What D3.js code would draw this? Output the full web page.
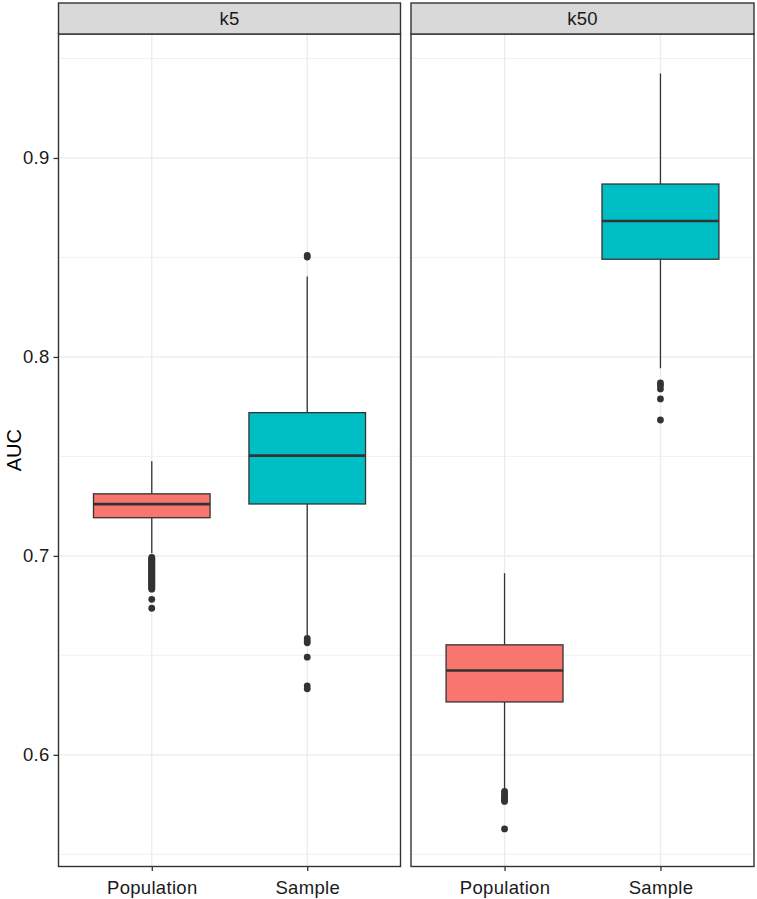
<!DOCTYPE html>
<html>
<head>
<meta charset="utf-8">
<script src="https://cdn.jsdelivr.net/npm/d3@7"></script>
<style>
  html, body { margin: 0; padding: 0; background: #ffffff; }
  svg { display: block; }
  text { font-family: "Liberation Sans", Arial, sans-serif; }
</style>
</head>
<body>
<div id="chart"></div>
<script>
// ---- Data ----
const facets = ["k5", "k50"];
const groups = ["Population", "Sample"];
const yTicks = [0.6, 0.7, 0.8, 0.9];
const yMinor = [0.55, 0.65, 0.75, 0.85, 0.95];
const fills = ["#F8766D", "#00BFC4"];

// order: k5-Population, k5-Sample, k50-Population, k50-Sample
const whiskerLow  = [0.7013, 0.6603, 0.5833, 0.7943];
const q1          = [0.7192, 0.7261, 0.6266, 0.8491];
const medians     = [0.7260, 0.7504, 0.6424, 0.8683];
const q3          = [0.7312, 0.7720, 0.6553, 0.8869];
const whiskerHigh = [0.7476, 0.8404, 0.6913, 0.9425];

const outK5Pop = [0.6992, 0.6987, 0.6982, 0.6977, 0.6972, 0.6967, 0.6962, 0.6957, 0.6952,
  0.6947, 0.6942, 0.6937, 0.6932, 0.6927, 0.6922, 0.6917, 0.6912, 0.6907, 0.6902, 0.6897,
  0.6892, 0.6887, 0.6882, 0.6877, 0.6872, 0.6867, 0.6862, 0.6857, 0.6852, 0.6847, 0.6842,
  0.6837, 0.6833, 0.6782, 0.6737];
const outK5Sample = [0.8510, 0.8502, 0.6585, 0.6572, 0.6563, 0.6491, 0.6347, 0.6332];
const outK50Pop = [0.5817, 0.5805, 0.5795, 0.5787, 0.5780, 0.5773, 0.5766, 0.5628];
const outK50Sample = [0.7869, 0.7858, 0.7839, 0.7789, 0.7683];
const outliers = [outK5Pop, outK5Sample, outK50Pop, outK50Sample];

// ---- Layout ----
const W = 757, H = 899;
const panels = [{x0: 58.5, x1: 400.5}, {x0: 411, x1: 754}];
const stripTop = 3, panelTop = 34, panelBottom = 866.5;
const fontSize = 18.5, spacing = 0.3;

const svg = d3.select("#chart").append("svg").attr("width", W).attr("height", H);

const y = d3.scaleLinear().domain([0.5439, 0.9623]).range([panelBottom, panelTop]);

const ink = "#333333";

facets.forEach((f, fi) => {
  const p = panels[fi];
  const x = d3.scalePoint().domain(groups).range([p.x0, p.x1]).padding(0.6);
  const step = x.step();
  const bw = step * 0.75;
  const g = svg.append("g");

  g.append("rect").attr("x", p.x0).attr("y", panelTop)
    .attr("width", p.x1 - p.x0).attr("height", panelBottom - panelTop).attr("fill", "#fff");

  g.selectAll(".minor").data(yMinor).join("line")
    .attr("x1", p.x0).attr("x2", p.x1)
    .attr("y1", d => y(d)).attr("y2", d => y(d))
    .attr("stroke", "#EBEBEB").attr("stroke-width", 0.7);
  g.selectAll(".major").data(yTicks).join("line")
    .attr("x1", p.x0).attr("x2", p.x1)
    .attr("y1", d => y(d)).attr("y2", d => y(d))
    .attr("stroke", "#EBEBEB").attr("stroke-width", 1.3);
  g.selectAll(".vgrid").data(groups).join("line")
    .attr("x1", d => x(d)).attr("x2", d => x(d))
    .attr("y1", panelTop).attr("y2", panelBottom)
    .attr("stroke", "#EBEBEB").attr("stroke-width", 1.3);

  groups.forEach((gr, gi) => {
    const i = fi * 2 + gi;
    const cx = x(gr);
    g.append("line").attr("x1", cx).attr("x2", cx)
      .attr("y1", y(q3[i])).attr("y2", y(whiskerHigh[i]))
      .attr("stroke", ink).attr("stroke-width", 1.3);
    g.append("line").attr("x1", cx).attr("x2", cx)
      .attr("y1", y(q1[i])).attr("y2", y(whiskerLow[i]))
      .attr("stroke", ink).attr("stroke-width", 1.3);
    g.append("rect").attr("x", cx - bw / 2).attr("y", y(q3[i]))
      .attr("width", bw).attr("height", y(q1[i]) - y(q3[i]))
      .attr("fill", fills[gi]).attr("stroke", ink).attr("stroke-width", 1.3);
    g.append("line").attr("x1", cx - bw / 2).attr("x2", cx + bw / 2)
      .attr("y1", y(medians[i])).attr("y2", y(medians[i]))
      .attr("stroke", ink).attr("stroke-width", 2.6);
    g.selectAll(null).data(outliers[i]).join("circle")
      .attr("cx", cx).attr("cy", d => y(d)).attr("r", 3.4)
      .attr("fill", ink);
  });

  g.append("rect").attr("x", p.x0).attr("y", panelTop)
    .attr("width", p.x1 - p.x0).attr("height", panelBottom - panelTop)
    .attr("fill", "none").attr("stroke", ink).attr("stroke-width", 1.4);

  g.append("rect").attr("x", p.x0).attr("y", stripTop)
    .attr("width", p.x1 - p.x0).attr("height", panelTop - stripTop)
    .attr("fill", "#D9D9D9").attr("stroke", ink).attr("stroke-width", 1.4);
  g.append("text").attr("x", (p.x0 + p.x1) / 2).attr("y", (stripTop + panelTop) / 2)
    .attr("dy", "0.36em").attr("text-anchor", "middle")
    .attr("font-size", fontSize).attr("letter-spacing", spacing).attr("fill", "#1A1A1A").text(f);

  const xa = g.append("g").attr("transform", `translate(0,${panelBottom})`)
    .call(d3.axisBottom(x).tickSize(4.5).tickPadding(5));
  xa.select(".domain").remove();
  xa.selectAll(".tick line").attr("stroke", ink).attr("stroke-width", 1.3);
  xa.selectAll(".tick text").attr("font-size", fontSize).attr("letter-spacing", spacing)
    .attr("fill", "#1A1A1A").attr("font-family", "Liberation Sans, Arial, sans-serif")
    .attr("dy", "0.95em");
});

const ya = svg.append("g").attr("transform", `translate(${panels[0].x0},0)`)
  .call(d3.axisLeft(y).tickValues(yTicks).tickFormat(d3.format(".1f")).tickSize(5).tickPadding(4));
ya.select(".domain").remove();
ya.selectAll(".tick line").attr("stroke", ink).attr("stroke-width", 1.3);
ya.selectAll(".tick text").attr("font-size", fontSize).attr("letter-spacing", spacing)
  .attr("fill", "#1A1A1A").attr("font-family", "Liberation Sans, Arial, sans-serif");

svg.append("text")
  .attr("transform", `translate(21,${(panelTop + panelBottom) / 2}) rotate(-90)`)
  .attr("text-anchor", "middle").attr("font-size", 20).attr("fill", "#000")
  .text("AUC");
</script>
</body>
</html>
